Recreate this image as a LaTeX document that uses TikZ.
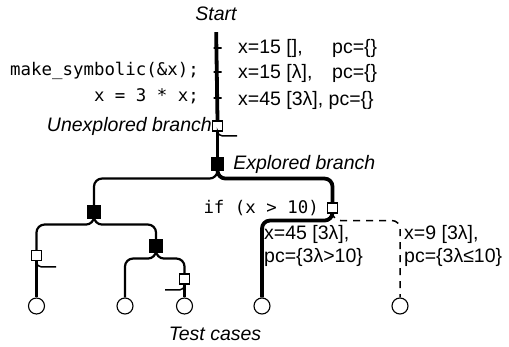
\documentclass[tikz,border=0pt]{standalone}
\usepackage{fontspec}
\setmainfont{Liberation Sans}
\setmonofont{DejaVu Sans Mono}
\usepackage{tikz}
\usetikzlibrary{positioning}
\tikzset{
Branch/.style={
	draw, rectangle,
	fill=white,
	line width=1.1pt,
	minimum size=10pt,
	inner sep=0pt
},
ExploredBranch/.style={
	Branch,
	fill=black,
	minimum size=12pt
},
TestCase/.style={
	draw, circle,
	line width=1.1pt,
	minimum size=16pt,
	inner sep=0pt
},
Tick/.style={
	draw,
	line width=1.2pt,
	minimum width=8pt,
	minimum height=0pt,
	inner sep=0pt
},
Edge/.style={
	draw=black,
	line width=2.2pt,
	rounded corners=8pt
},
MarkedEdge/.style={
	Edge,
	line width=3.8pt
},
OpenEdge/.style={
	Edge,
	line width=1.5pt,
	dash pattern=on 7pt off 6pt
},
Tail/.style={
	draw=black,
	line width=1.5pt,
	rounded corners=5pt
},
Note/.style={
	inner sep=0pt,
	font=\fontsize{19.5}{22}\selectfont
},
Caption/.style={
	inner sep=0pt,
	font=\fontsize{19.5}{22}\selectfont\itshape
},
Code/.style={
	inner sep=0pt,
	font=\fontsize{17.4}{20}\selectfont\ttfamily
}
}

\begin{document}
\begin{tikzpicture}[x=1pt, y=-1pt]
	\useasboundingbox (0,0) rectangle (509,347);

	\node[Caption] (start) at (216,14) {Start};
	\node[Tick] (t1) at (217.5,48) {};
	\node[Tick] (t2) at (217.5,72) {};
	\node[Tick] (t3) at (217.5,98) {};
	\node[Branch, label={[Caption, name=ulabel]left:Unexplored branch}] (U) at (217.5,126) {};
	\node[ExploredBranch] (E) at (217.5,164) {};
	\node[Caption, right=9pt of E] (elabel) {Explored branch};

	\node[ExploredBranch] (L1) at (94,212) {};
	\node[Branch] (IF) at (332.5,208) {};
	\node[Code, left=8pt of IF] (iflabel) {if (x > 10)};
	\node[Branch] (L2) at (36.5,255.5) {};
	\node[ExploredBranch] (L3) at (156,246) {};
	\node[Branch] (L4) at (184.5,279) {};

	\node[TestCase] (c1) at (36.5,306) {};
	\node[TestCase] (c2) at (125,306) {};
	\node[TestCase] (c3) at (184.5,306) {};
	\node[TestCase] (c4) at (262,306) {};
	\node[TestCase] (c5) at (400,306) {};
	\node[Caption, anchor=base] (tlabel) at (215,341) {Test cases};

	\coordinate (utail) at (237,136);
	\coordinate (l2tail) at (56,267);
	\coordinate (l4tail) at (165,290);

	\draw[MarkedEdge, shorten <=11pt] (start.south) -- (U.north);
	\draw[MarkedEdge] (U.south) -- (E.north);
	\draw[Tail] (U.south) |- (utail);
	\draw[Edge] (E.south) -- ++(0,8) -| (L1.north);
	\draw[MarkedEdge] (E.south) -- ++(0,8) -| (IF.north);
	\draw[MarkedEdge] (IF.south) -- ++(0,7) -| (c4.north);
	\draw[OpenEdge] (IF.south) -- ++(0,7) -| (c5.north);
	\draw[Edge] (L1.south) -- ++(0,6) -| (L2.north);
	\draw[Edge] (L1.south) -- ++(0,6) -| (L3.north);
	\draw[Edge] (L2.south) -- (c1.north);
	\draw[Tail] (L2.south) |- (l2tail);
	\draw[Edge] (L3.south) -- ++(0,6) -| (c2.north);
	\draw[Edge] (L3.south) -- ++(0,6) -| (L4.north);
	\draw[Edge] (L4.south) -- (c3.north);
	\draw[Tail] (L4.south) |- (l4tail);

	% states along the trunk
	\node[Note, anchor=base west] (s1) at (238,53.5) {\makebox[94pt][l]{x=15 [],}pc=\{\}};
	\node[Note, anchor=base west] (s2) at (238,79) {\makebox[94pt][l]{x=15 [λ],}pc=\{\}};
	\node[Note, anchor=base west] (s3) at (238,106) {x=45 [3λ], pc=\{\}};
	\node[Code, anchor=base east] (code1) at (199,76) {make\_symbolic(\&x);};
	\node[Code, anchor=base east] (code2) at (199,102) {x = 3 * x;};

	% states after the branch
	\node[Note, anchor=base west] (s4) at (264,240) {x=45 [3λ],};
	\node[Note, anchor=base west] (s5) at (264,263) {pc=\{3λ>10\}};
	\node[Note, anchor=base west] (s6) at (404,240) {x=9 [3λ],};
	\node[Note, anchor=base west] (s7) at (404,263) {pc=\{3λ≤10\}};
\end{tikzpicture}
\end{document}
